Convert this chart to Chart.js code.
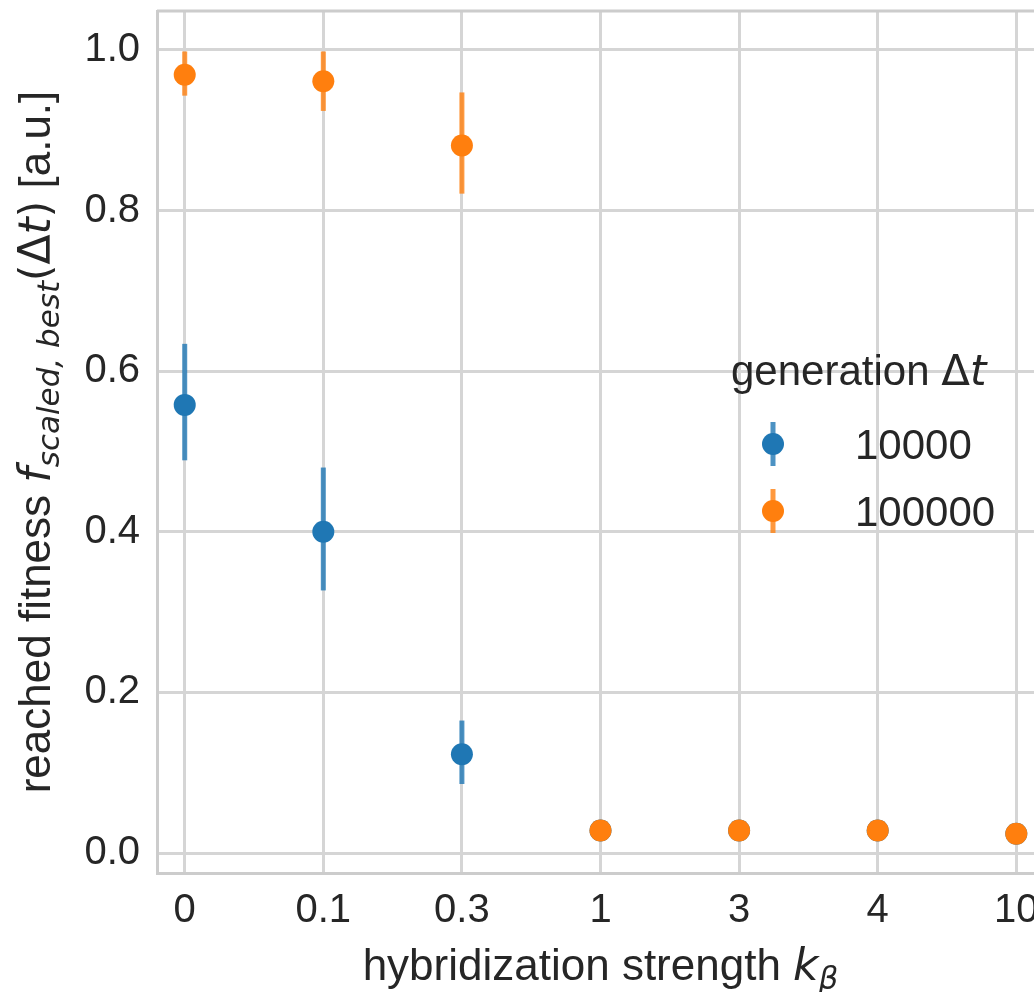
<!DOCTYPE html>
<html>
<head>
<meta charset="utf-8">
<script src="https://cdn.jsdelivr.net/npm/chart.js@4"></script>
<style>
  html, body { margin: 0; padding: 0; background: #fff; overflow: hidden; }
  #wrap { width: 1060px; height: 992px; }
</style>
</head>
<body>
<div id="wrap"><canvas id="myChart" width="1060" height="992"></canvas></div>
<script>
// categories on the x axis (hybridization strength k_beta)
const xLabels = ['0', '0.1', '0.3', '1', '3', '4', '10'];
const yTicks = [0.0, 0.2, 0.4, 0.6, 0.8, 1.0];

// generation 10000 (mean, lower and upper error bar)
const fit10k = [0.558, 0.400, 0.123, 0.028, 0.028, 0.028, 0.024];
const fit10kLo = [0.489, 0.327, 0.086, 0.026, 0.026, 0.026, 0.022];
const fit10kHi = [0.634, 0.480, 0.165, 0.030, 0.030, 0.030, 0.026];

// generation 100000
const fit100k = [0.969, 0.961, 0.881, 0.028, 0.028, 0.028, 0.024];
const fit100kLo = [0.943, 0.924, 0.821, 0.026, 0.026, 0.026, 0.022];
const fit100kHi = [0.998, 0.998, 0.947, 0.030, 0.030, 0.030, 0.026];

const seriesNames = ['10000', '100000'];
const blue = '#1f77b4';
const orange = '#ff7f0e';
const textColor = '#262626';
const sans = '"Liberation Sans", Arial, sans-serif';
const math = '"DejaVu Sans", sans-serif';

const series = [
    { name: seriesNames[0], mean: fit10k, lo: fit10kLo, hi: fit10kHi, color: blue, bar: 'rgba(31,119,180,0.8)' },
    { name: seriesNames[1], mean: fit100k, lo: fit100kLo, hi: fit100kHi, color: orange, bar: 'rgba(255,127,14,0.8)' }
];

// draw a run of text pieces: [text, font, dy]
function drawPieces(ctx, pieces, x, y) {
    let cx = x;
    for (const p of pieces) {
        ctx.font = p[1];
        ctx.fillText(p[0], cx, y + (p[2] || 0));
        cx += ctx.measureText(p[0]).width;
    }
    return cx - x;
}
function measurePieces(ctx, pieces) {
    let w = 0;
    for (const p of pieces) {
        ctx.font = p[1];
        w += ctx.measureText(p[0]).width;
    }
    return w;
}

const errorBars = {
    id: 'errorBars',
    beforeDatasetsDraw(chart) {
        const { ctx, scales: { x, y } } = chart;
        ctx.save();
        ctx.lineWidth = 5;
        ctx.lineCap = 'butt';
        for (const s of series) {
            ctx.strokeStyle = s.bar;
            s.mean.forEach((m, i) => {
                const px = x.getPixelForValue(i);
                ctx.beginPath();
                ctx.moveTo(px, y.getPixelForValue(s.lo[i]));
                ctx.lineTo(px, y.getPixelForValue(s.hi[i]));
                ctx.stroke();
            });
        }
        ctx.restore();
    }
};

const decorations = {
    id: 'decorations',
    afterDraw(chart) {
        const { ctx, chartArea: a } = chart;
        ctx.save();
        // top spine
        ctx.strokeStyle = '#cccccc';
        ctx.lineWidth = 3;
        ctx.beginPath();
        ctx.moveTo(a.left, a.top);
        ctx.lineTo(a.right, a.top);
        ctx.stroke();

        ctx.fillStyle = textColor;
        ctx.textBaseline = 'alphabetic';

        // x axis title
        const xt = [
            ['hybridization strength ', '44px ' + sans],
            ['k', 'italic 44px ' + math],
            ['β', 'italic 31px ' + math, 9]
        ];
        const xw = measurePieces(ctx, xt);
        drawPieces(ctx, xt, (a.left + a.right) / 2 - xw / 2, 980);

        // y axis title (rotated)
        const yt = [
            ['reached fitness ', '44px ' + sans],
            ['f', 'italic 44px ' + math],
            ['scaled, best', 'italic 31px ' + math, 9],
            ['(', '42px ' + math],
            ['Δ', '44px ' + math],
            ['t', 'italic 44px ' + math],
            [')', '42px ' + math],
            [' [a.u.]', '44px ' + sans]
        ];
        const yw = measurePieces(ctx, yt);
        ctx.save();
        ctx.translate(50, (a.top + a.bottom) / 2);
        ctx.rotate(-Math.PI / 2);
        drawPieces(ctx, yt, -yw / 2, 0);
        ctx.restore();

        // legend
        const lt = [
            ['generation ', '42px ' + sans],
            ['Δ', '42px ' + math],
            ['t', 'italic 42px ' + math]
        ];
        drawPieces(ctx, lt, 731, 385);
        series.forEach((s, k) => {
            const cy = 444 + k * 67;
            ctx.strokeStyle = s.bar;
            ctx.lineWidth = 5;
            ctx.beginPath();
            ctx.moveTo(773, cy - 22);
            ctx.lineTo(773, cy + 22);
            ctx.stroke();
            ctx.fillStyle = s.color;
            ctx.beginPath();
            ctx.arc(773, cy, 11, 0, Math.PI * 2);
            ctx.fill();
            ctx.fillStyle = textColor;
            ctx.font = '42px ' + sans;
            ctx.fillText(s.name, 855, cy + 15);
        });
        ctx.restore();
    }
};

const data = {
    datasets: series.map((s, k) => ({
        label: s.name,
        data: s.mean.map((v, i) => ({ x: i, y: v })),
        backgroundColor: s.color,
        borderColor: s.color,
        pointRadius: 11,
        pointHoverRadius: 11,
        pointBorderWidth: 0,
        showLine: false,
        order: 1 - k
    }))
};

const config = {
    type: 'scatter',
    data: data,
    options: {
        responsive: false,
        animation: false,
        layout: { padding: { top: 8, right: 16, left: 0, bottom: 0 } },
        plugins: {
            legend: { display: false },
            tooltip: { enabled: false }
        },
        scales: {
            x: {
                type: 'linear',
                min: -0.2,
                max: 6.2,
                afterBuildTicks: (scale) => { scale.ticks = xLabels.map((_, i) => ({ value: i })); },
                afterFit: (scale) => {
                    scale.height = 119;
                    scale.paddingLeft = 0;
                    scale.paddingRight = 0;
                },
                ticks: {
                    autoSkip: false,
                    maxRotation: 0,
                    padding: 14,
                    color: textColor,
                    font: { family: sans, size: 40 },
                    callback: (v) => xLabels[v]
                },
                grid: { color: '#d5d5d5', lineWidth: 3, drawTicks: false },
                border: { display: true, color: '#cccccc', width: 3 }
            },
            y: {
                type: 'linear',
                min: -0.0248,
                max: 1.0484,
                afterBuildTicks: (scale) => { scale.ticks = yTicks.map(v => ({ value: v })); },
                afterFit: (scale) => {
                    scale.width = 157;
                    scale.paddingTop = 0;
                    scale.paddingBottom = 0;
                },
                ticks: {
                    padding: 17,
                    color: textColor,
                    font: { family: sans, size: 40 },
                    callback: (v) => v.toFixed(1)
                },
                grid: { color: '#d5d5d5', lineWidth: 3, drawTicks: false },
                border: { display: true, color: '#cccccc', width: 3 }
            }
        }
    },
    plugins: [errorBars, decorations]
};

// eslint-disable-next-line
const myChart = new Chart(
    document.getElementById('myChart'),
    config
);
</script>
</body>
</html>
